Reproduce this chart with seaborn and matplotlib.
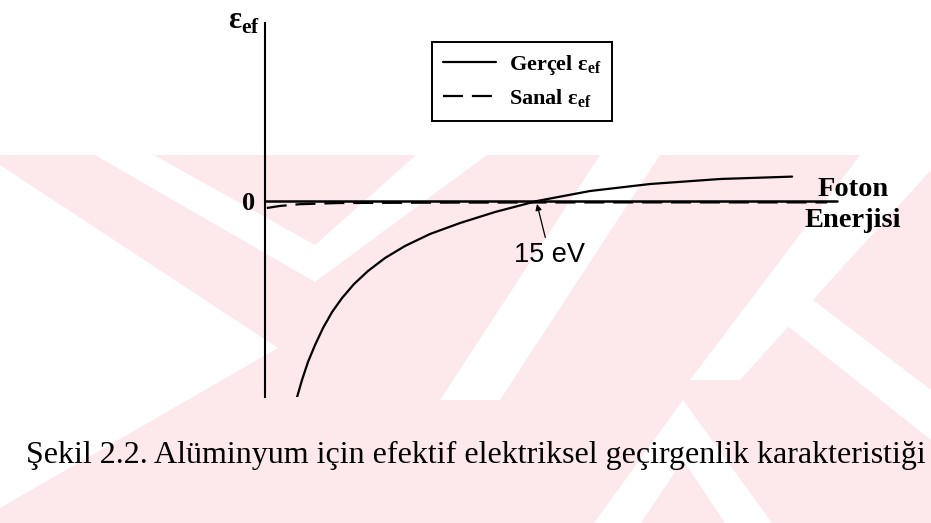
import numpy as np
import pandas as pd
import seaborn as sns
import matplotlib
matplotlib.use("Agg")
import matplotlib.pyplot as plt
from matplotlib.lines import Line2D
from matplotlib.patches import Polygon

# values (x: photon energy in eV, y: effective permittivity, arbitrary units)
gercel_energy = [1.77, 2.04, 2.37, 2.76, 3.20, 3.70, 4.25, 4.91, 5.68, 6.62, 7.72, 9.10, 10.76, 12.69,
                 15.0, 17.93, 21.24, 25.1, 29.07]
gercel_eps = [-9.8, -8.95, -8.05, -7.2, -6.35, -5.55, -4.85, -4.15, -3.5, -2.85, -2.25, -1.65, -1.1, -0.55,
              0.0, 0.5, 0.85, 1.1, 1.22]
sanal_energy = [0.1, 0.8, 1.9, 4.1, 10.0, 20.0, 31.0]
sanal_eps = [-0.35, -0.25, -0.16, -0.1, -0.08, -0.07, -0.07]
zero_energy = [0.0, 31.55]
zero_eps = [0.0, 0.0]
series_names = ["Gerçel", "Sanal"]
crossing_energy = 15.0
crossing_label = "15 eV"
x_label = "Foton\nEnerjisi"
caption = "Şekil 2.2. Alüminyum için efektif elektriksel geçirgenlik karakteristiği"

W, H = 931, 523
PINK = "#fde8ec"


def px(x, y):
    return (x / W, 1 - y / H)


def main():
    sns.set_theme(style="white")
    plt.rcParams["font.family"] = ["Liberation Serif", "DejaVu Serif"]
    plt.rcParams["mathtext.fontset"] = "custom"
    plt.rcParams["mathtext.rm"] = "Liberation Serif"
    plt.rcParams["mathtext.bf"] = "Liberation Serif:bold"
    for k in ["text.color", "axes.labelcolor", "xtick.color", "ytick.color"]:
        plt.rcParams[k] = "black"

    df = pd.concat([
        pd.DataFrame({"energy": gercel_energy, "eps": gercel_eps, "kind": series_names[0]}),
        pd.DataFrame({"energy": sanal_energy, "eps": sanal_eps, "kind": series_names[1]}),
    ])

    fig = plt.figure(figsize=(W / 100, H / 100), dpi=100)
    fig.patch.set_facecolor("white")

    # thesis watermark in the background (rough)
    fig.patches.append(Polygon([px(0, 155), px(W, 155), px(W, H), px(0, H)], closed=True,
                               transform=fig.transFigure, fc=PINK, ec="none", zorder=-3))
    white_shapes = [
        [(0, 165), (278, 348), (0, 508)],
        [(95, 155), (154, 155), (315, 245), (416, 155), (487, 155), (315, 282)],
        [(600, 155), (660, 155), (500, 400), (440, 400)],
        [(860, 155), (931, 155), (931, 170), (740, 380), (690, 380)],
        [(683, 400), (772, 523), (725, 523), (683, 460), (641, 523), (594, 523)],
        [(800, 290), (931, 390), (931, 440), (780, 320)],
    ]
    for shp in white_shapes:
        fig.patches.append(Polygon([px(*p) for p in shp], closed=True, transform=fig.transFigure,
                                   fc="white", ec="none", zorder=-2))

    ax = fig.add_axes([265 / W, 1 - 397 / H, (900 - 265) / W, (397 - 23) / H])
    ax.set_facecolor("none")

    sns.lineplot(data=df, x="energy", y="eps", style="kind", dashes={"Gerçel": "", "Sanal": (9, 4)},
                 color="black", lw=1.6, estimator=None, sort=False, legend=False, ax=ax)
    ax.plot(zero_energy, zero_eps, color="black", lw=1.8)

    ax.set_xlim(0, 35.02)
    ax.set_ylim(-9.8, 8.9)
    for s in ["top", "right", "bottom"]:
        ax.spines[s].set_visible(False)
    ax.spines["left"].set_color("black")
    ax.spines["left"].set_linewidth(1.5)
    ax.set_xticks([])
    ax.set_yticks([0])
    ax.set_yticklabels(["0"], fontsize=19, fontweight="bold")
    ax.tick_params(axis="y", length=0, pad=7)
    ax.set_xlabel("")
    ax.set_ylabel("")

    ax.text(32.43, -0.2, x_label, ha="center", va="center", fontsize=20.5, fontweight="bold",
            linespacing=1.31)
    ax.annotate(crossing_label, xy=(crossing_energy, -0.15), xytext=(15.7, -2.7),
                ha="center", va="center", fontsize=19.5, family="Liberation Sans",
                arrowprops=dict(arrowstyle="-|>", color="black", lw=0.9, mutation_scale=9, shrinkA=1, shrinkB=0))

    fig.text(*px(228, 29), r"ε$_{\mathbf{ef}}$", fontsize=22, fontweight="bold", ha="left", va="baseline")

    handles = [Line2D([], [], color="black", lw=1.6),
               Line2D([], [], color="black", lw=1.6, dashes=(9, 4))]
    labels = [r"Gerçel ε$_{\mathbf{ef}}$", r"Sanal ε$_{\mathbf{ef}}$"]
    leg = ax.legend(handles, labels, loc="upper left", bbox_to_anchor=px(432, 42), bbox_transform=fig.transFigure,
                    borderaxespad=0, frameon=True, fancybox=False, framealpha=1, edgecolor="black",
                    handlelength=2.4, handletextpad=0.55, borderpad=0.5, labelspacing=0.45,
                    prop={"family": "Liberation Serif", "weight": "bold", "size": 16})
    leg.get_frame().set_linewidth(1.4)

    fig.text(476 / W, 1 - 463 / H, caption, ha="center", va="baseline", fontsize=23)

    fig.savefig("out.png", dpi=100)


if __name__ == "__main__":
    main()
